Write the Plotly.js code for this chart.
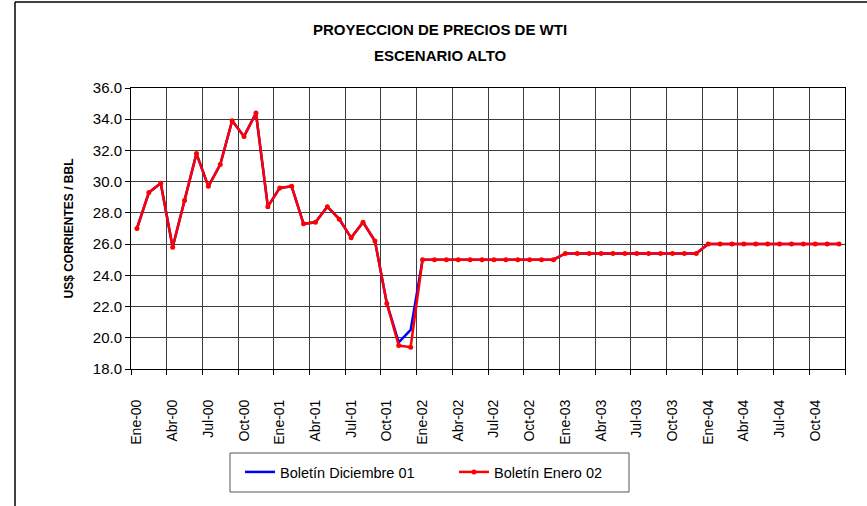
<!DOCTYPE html>
<html>
<head>
<meta charset="utf-8">
<script src="https://cdn.plot.ly/plotly-3.0.1.min.js"></script>
<style>
  html, body { margin: 0; padding: 0; background: #fff; }
  #chart { width: 867px; height: 506px; }
</style>
</head>
<body>
<div id="chart"></div>
<script>
// Categories: months Jan-2000 .. Dec-2004
const months = [
  'Ene-00','Feb-00','Mar-00','Abr-00','May-00','Jun-00','Jul-00','Ago-00','Sep-00','Oct-00','Nov-00','Dic-00',
  'Ene-01','Feb-01','Mar-01','Abr-01','May-01','Jun-01','Jul-01','Ago-01','Sep-01','Oct-01','Nov-01','Dic-01',
  'Ene-02','Feb-02','Mar-02','Abr-02','May-02','Jun-02','Jul-02','Ago-02','Sep-02','Oct-02','Nov-02','Dic-02',
  'Ene-03','Feb-03','Mar-03','Abr-03','May-03','Jun-03','Jul-03','Ago-03','Sep-03','Oct-03','Nov-03','Dic-03',
  'Ene-04','Feb-04','Mar-04','Abr-04','May-04','Jun-04','Jul-04','Ago-04','Sep-04','Oct-04','Nov-04','Dic-04'
];

// Tick labels shown on the x axis
const tickLabels = [
  'Ene-00','Abr-00','Jul-00','Oct-00',
  'Ene-01','Abr-01','Jul-01','Oct-01',
  'Ene-02','Abr-02','Jul-02','Oct-02',
  'Ene-03','Abr-03','Jul-03','Oct-03',
  'Ene-04','Abr-04','Jul-04','Oct-04'
];

// Boletín Diciembre 01 (US$/bbl)
const boletinDic01 = [
  27.0, 29.3, 29.9, 25.8, 28.8, 31.8, 29.7, 31.1, 33.9, 32.9, 34.4, 28.4,
  29.6, 29.7, 27.3, 27.4, 28.4, 27.6, 26.4, 27.4, 26.2, 22.2, 19.7, 20.5,
  25.0, 25.0, 25.0, 25.0, 25.0, 25.0, 25.0, 25.0, 25.0, 25.0, 25.0, 25.0,
  25.4, 25.4, 25.4, 25.4, 25.4, 25.4, 25.4, 25.4, 25.4, 25.4, 25.4, 25.4,
  26.0, 26.0, 26.0, 26.0, 26.0, 26.0, 26.0, 26.0, 26.0, 26.0, 26.0, 26.0
];

// Boletín Enero 02 (US$/bbl)
const boletinEne02 = [
  27.0, 29.3, 29.9, 25.8, 28.8, 31.8, 29.7, 31.1, 33.9, 32.9, 34.4, 28.4,
  29.6, 29.7, 27.3, 27.4, 28.4, 27.6, 26.4, 27.4, 26.2, 22.2, 19.5, 19.4,
  25.0, 25.0, 25.0, 25.0, 25.0, 25.0, 25.0, 25.0, 25.0, 25.0, 25.0, 25.0,
  25.4, 25.4, 25.4, 25.4, 25.4, 25.4, 25.4, 25.4, 25.4, 25.4, 25.4, 25.4,
  26.0, 26.0, 26.0, 26.0, 26.0, 26.0, 26.0, 26.0, 26.0, 26.0, 26.0, 26.0
];

// positions on the category scale (index of each month)
const xIndex = months.map((m, i) => i);
const tickIndex = tickLabels.map(l => months.indexOf(l));
// grid boundaries every three months (between categories)
const gridVals = tickIndex.map(i => i - 0.5).concat([months.length - 0.5]);

// pixel helpers for layout placement (plot area 131..845 x 88..369)
const L = 131, R = 845, T = 88, B = 369;
const px = v => (v - L) / (R - L);
const py = v => (B - v) / (B - T);

const font = '"Liberation Sans", Arial, sans-serif';
const gridColor = '#3c3c3c';

const traces = [
  {
    x: xIndex, y: boletinDic01, text: months, name: 'Boletín Diciembre 01',
    type: 'scatter', mode: 'lines',
    line: { color: '#0000FF', width: 2.5 },
    legend: 'legend'
  },
  {
    x: xIndex, y: boletinEne02, text: months, name: 'Boletín Enero 02',
    type: 'scatter', mode: 'lines+markers',
    line: { color: '#FF0000', width: 2.5 },
    marker: { color: '#FF0000', size: 5, symbol: 'circle' },
    legend: 'legend2'
  }
];

const legendCommon = {
  orientation: 'h', xanchor: 'left', yanchor: 'middle',
  y: py(472), bgcolor: 'rgba(0,0,0,0)', borderwidth: 0,
  font: { family: font, size: 14.5, color: '#000000' }
};

const layout = {
  width: 867, height: 506,
  margin: { l: L, r: 867 - R, t: T, b: 506 - B, pad: 0 },
  paper_bgcolor: '#ffffff', plot_bgcolor: '#ffffff',
  font: { family: font, color: '#000000', size: 14 },
  title: {
    text: '<b>PROYECCION DE PRECIOS DE WTI</b>',
    font: { family: font, size: 15, color: '#000000' },
    xref: 'container', x: 440 / 867, xanchor: 'center',
    yref: 'container', y: 1 - 30 / 506, yanchor: 'middle'
  },
  annotations: [
    {
      text: '<b>ESCENARIO ALTO</b>', showarrow: false,
      xref: 'paper', yref: 'paper',
      x: px(440), y: py(55),
      xanchor: 'center', yanchor: 'middle',
      font: { family: font, size: 15, color: '#000000' }
    }
  ],
  xaxis: {
    type: 'linear',
    range: [-0.5, months.length - 0.5],
    tickmode: 'array', tickvals: tickIndex, ticktext: tickLabels,
    tickangle: -90,
    tickfont: { family: font, size: 14, color: '#000000' },
    ticks: '', showgrid: false, zeroline: false,
    ticklabelstandoff: 24,
    showline: true, mirror: true, linecolor: '#000000', linewidth: 1,
    minor: {
      tickmode: 'array', tickvals: gridVals,
      ticks: 'outside', ticklen: 5, tickcolor: '#000000', tickwidth: 1,
      showgrid: true, gridcolor: gridColor, gridwidth: 1
    }
  },
  yaxis: {
    range: [18, 36], tick0: 18, dtick: 2, tickformat: '.1f',
    tickfont: { family: font, size: 15, color: '#000000' },
    ticks: 'outside', ticklen: 5, tickcolor: '#000000',
    showgrid: true, gridcolor: gridColor, gridwidth: 1,
    zeroline: false,
    showline: true, mirror: true, linecolor: '#000000', linewidth: 1,
    title: {
      text: '<b>US$ CORRIENTES / BBL</b>',
      font: { family: font, size: 12, color: '#000000' },
      standoff: 16
    }
  },
  legend: Object.assign({}, legendCommon, { x: px(240) }),
  legend2: Object.assign({}, legendCommon, { x: px(454) }),
  shapes: [
    // legend frame
    { type: 'rect', xref: 'paper', yref: 'paper',
      x0: px(230), x1: px(629), y0: py(453), y1: py(492),
      line: { color: '#555555', width: 1 }, fillcolor: 'rgba(0,0,0,0)' },
    // outer chart frame (left and top edges)
    { type: 'line', xref: 'paper', yref: 'paper',
      x0: px(15), x1: px(15), y0: py(2), y1: py(506),
      line: { color: '#000000', width: 1.5 } },
    { type: 'line', xref: 'paper', yref: 'paper',
      x0: px(15), x1: px(867), y0: py(2), y1: py(2),
      line: { color: '#000000', width: 1.5 } }
  ],
  showlegend: true
};

Plotly.newPlot('chart', traces, layout, { displayModeBar: false, staticPlot: true });
</script>
</body>
</html>
